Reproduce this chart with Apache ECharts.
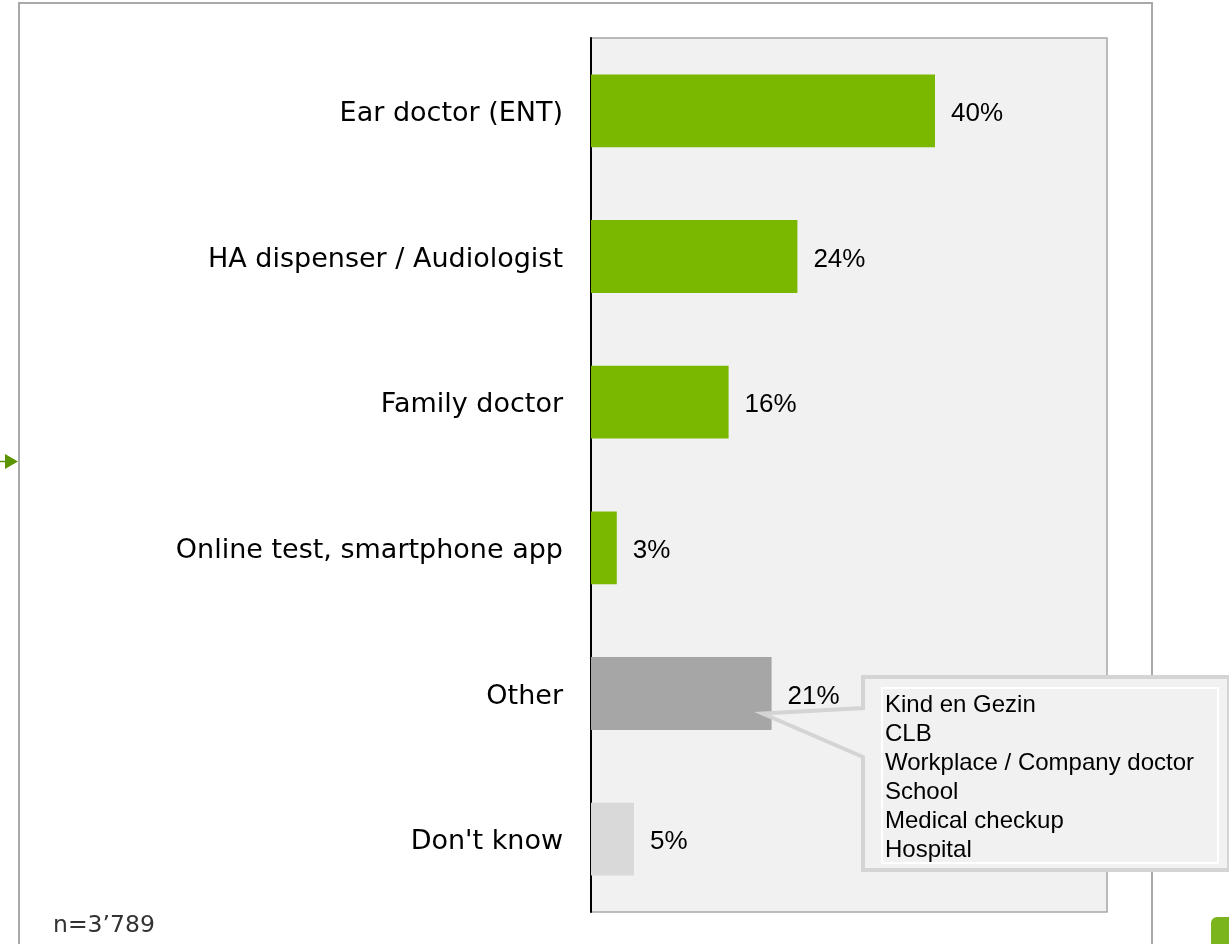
<!DOCTYPE html>
<html>
<head>
<meta charset="utf-8">
<script src="https://cdn.jsdelivr.net/npm/echarts@6/dist/echarts.min.js"></script>
<style>
  html, body { margin: 0; padding: 0; background: #ffffff; }
  #chart { width: 1229px; height: 944px; }
</style>
</head>
<body>
<div id="chart"></div>
<script>
// Where respondents had their hearing tested (share of respondents, %)
const categories = [
  'Ear doctor (ENT)',
  'HA dispenser / Audiologist',
  'Family doctor',
  'Online test, smartphone app',
  'Other',
  "Don't know"
];
const values = [40, 24, 16, 3, 21, 5];
const barColors = ['#7ab800', '#7ab800', '#7ab800', '#7ab800', '#a6a6a6', '#d9d9d9'];

// Breakdown of the "Other" answers shown in the callout
const otherDetails = [
  'Kind en Gezin',
  'CLB',
  'Workplace / Company doctor',
  'School',
  'Medical checkup',
  'Hospital'
];
const sampleNote = 'n=3\u2019789';

const chart = echarts.init(document.getElementById('chart'), null, { renderer: 'canvas' });

const baseOption = {
  animation: false,
  backgroundColor: '#ffffff',
  grid: {
    left: 591, top: 38, right: 122, bottom: 32,
    show: true,
    backgroundColor: '#f1f1f1',
    borderColor: '#a6a6a6',
    borderWidth: 1.5
  },
  xAxis: {
    type: 'value', min: 0, max: 60, show: false
  },
  yAxis: {
    type: 'category',
    data: categories,
    inverse: true,
    axisLine: { show: true, lineStyle: { color: '#000000', width: 2 } },
    axisTick: { show: false },
    splitLine: { show: false },
    axisLabel: {
      margin: 28,
      formatter: v => '{c|' + v + '}',
      rich: {
        c: {
          color: '#000000',
          fontFamily: 'DejaVu Sans',
          fontSize: 27,
          padding: [6, 0, 0, 0]
        }
      }
    }
  },
  series: [{
    type: 'bar',
    data: values.map((v, i) => ({ value: v, itemStyle: { color: barColors[i] } })),
    barWidth: '50%',
    label: {
      show: true,
      position: 'right',
      distance: 16,
      offset: [0, 3],
      formatter: p => p.value + '%',
      color: '#000000',
      fontFamily: 'Liberation Sans',
      fontSize: 26
    },
    z: 2
  }]
};

chart.setOption(baseOption);

// Callout anchored near the end of the "Other" bar
const otherIdx = categories.indexOf('Other');
const anchor = chart.convertToPixel({ gridIndex: 0 }, [values[otherIdx], categories[otherIdx]]);
const tip = [anchor[0] - 9, anchor[1] + 20];

const box = { x0: 863, y0: 677, x1: 1229, y1: 870 };
const notch = { top: 708, bottom: 757 };

chart.setOption({
  graphic: [
    // outer page frame
    {
      type: 'rect', silent: true, z: 0,
      shape: { x: 19, y: 3, width: 1133, height: 980 },
      style: { fill: null, stroke: '#a9a9a9', lineWidth: 2 }
    },
    // small marker arrow on the left edge
    {
      type: 'line', silent: true, z: 10,
      shape: { x1: 0, y1: 461.5, x2: 6, y2: 461.5 },
      style: { stroke: '#5c9400', lineWidth: 1.5 }
    },
    {
      type: 'polygon', silent: true, z: 10,
      shape: { points: [[5, 454], [18, 461.5], [5, 469]] },
      style: { fill: '#5c9400' }
    },
    // green corner tab
    {
      type: 'rect', silent: true, z: 10,
      shape: { x: 1211, y: 917, width: 30, height: 40, r: 6 },
      style: { fill: '#7ab51d' }
    },
    // callout bubble with pointer
    {
      type: 'polygon', silent: true, z: 20,
      shape: {
        points: [
          [box.x0, box.y0], [box.x1, box.y0], [box.x1, box.y1], [box.x0, box.y1],
          [box.x0, notch.bottom], tip, [box.x0, notch.top]
        ]
      },
      style: { fill: '#f1f1f1', stroke: '#d4d4d4', lineWidth: 4, lineJoin: 'miter' }
    },
    {
      type: 'rect', silent: true, z: 21,
      shape: { x: 882, y: 688, width: 336, height: 175 },
      style: { fill: null, stroke: '#ffffff', lineWidth: 2 }
    },
    {
      type: 'text', silent: true, z: 22,
      left: 885, top: 691,
      style: {
        text: otherDetails.join('\n'),
        font: '24px "Liberation Sans", Arial, sans-serif',
        lineHeight: 29,
        fill: '#000000'
      }
    },
    // sample size note
    {
      type: 'text', silent: true, z: 10,
      left: 53, top: 914,
      style: {
        text: sampleNote,
        font: '23.5px "DejaVu Sans", sans-serif',
        fill: '#333333'
      }
    }
  ]
});
</script>
</body>
</html>
